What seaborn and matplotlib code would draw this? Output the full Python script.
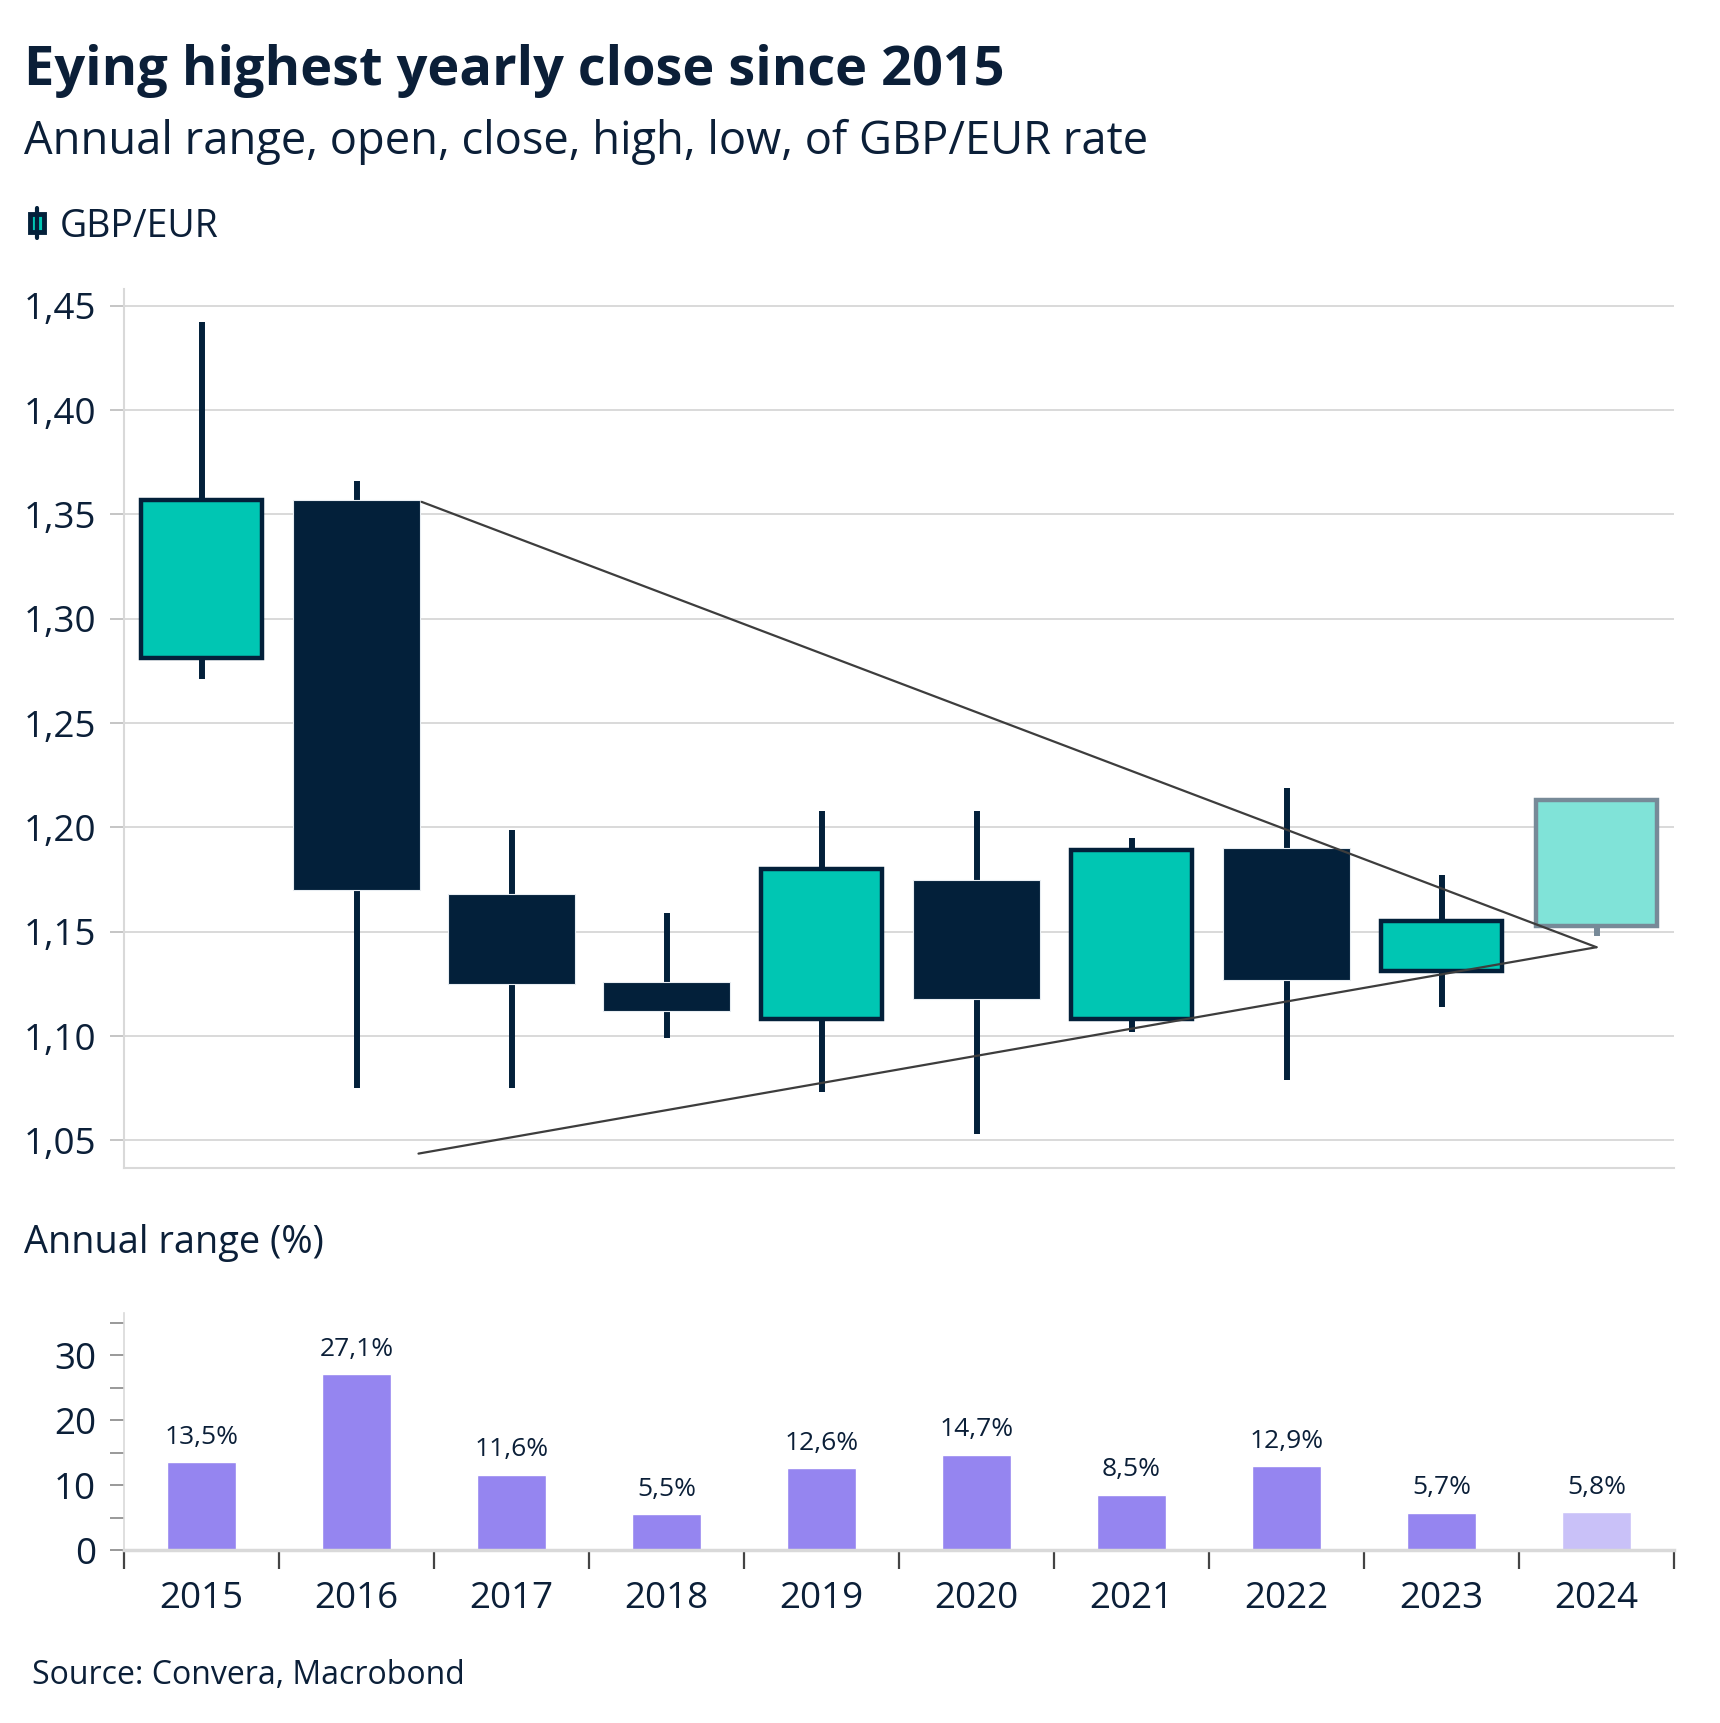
import numpy as np
import pandas as pd
import matplotlib
matplotlib.use("Agg")
import matplotlib.pyplot as plt
from matplotlib.patches import Rectangle
from matplotlib.lines import Line2D
from matplotlib.ticker import FixedLocator, FuncFormatter
import seaborn as sns

# ── data ─────────────────────────────────────────────────────────────────────
years  = ["2015", "2016", "2017", "2018", "2019", "2020", "2021", "2022", "2023", "2024"]
opens  = [1.281, 1.357, 1.168, 1.126, 1.108, 1.175, 1.108, 1.190, 1.131, 1.153]
closes = [1.357, 1.170, 1.125, 1.112, 1.180, 1.118, 1.189, 1.127, 1.155, 1.213]
highs  = [1.442, 1.366, 1.199, 1.159, 1.208, 1.208, 1.195, 1.219, 1.177, 1.214]
lows   = [1.271, 1.075, 1.075, 1.099, 1.073, 1.053, 1.102, 1.079, 1.114, 1.148]
ranges = [13.5, 27.1, 11.6, 5.5, 12.6, 14.7, 8.5, 12.9, 5.7, 5.8]

# triangle trend lines (x in category units, y in GBP/EUR)
upper_x, upper_y = [1.42, 9.0], [1.356, 1.1426]
lower_x, lower_y = [1.40, 9.0], [1.0437, 1.1426]

NAVY      = "#03203A"
TEAL      = "#00C6B3"
TEAL_LT   = "#80E3D8"   # 2024, year not finished
EDGE_LT   = "#778A98"
PURPLE    = "#9585F0"
PURPLE_LT = "#C9C1F8"
GRID      = "#D3D3D3"
TXT       = "#0B1F38"

sns.set_theme(style="white")
plt.rcParams["font.family"] = ["Open Sans", "DejaVu Sans"]
plt.rcParams["text.color"] = TXT
plt.rcParams["axes.labelcolor"] = TXT
plt.rcParams["xtick.color"] = TXT
plt.rcParams["ytick.color"] = TXT

W, H = 1720, 1723
fig = plt.figure(figsize=(W / 100, H / 100), dpi=100)

def fx(px): return px / W
def fy(px): return 1 - px / H

# ── candlestick panel ────────────────────────────────────────────────────────
ax = fig.add_axes([fx(124), fy(1168), fx(1674 - 124), (1168 - 289) / H])
x = np.arange(len(years))
for i in x:
    o, c, h, l = opens[i], closes[i], highs[i], lows[i]
    last = i == len(years) - 1
    edge = EDGE_LT if last else NAVY
    ax.vlines(i, l, h, color=edge, lw=4.3, zorder=2)
    if c >= o:
        ax.bar(i, c - o, bottom=o, width=0.78, color=TEAL_LT if last else TEAL,
               edgecolor=edge, linewidth=3.2, zorder=3)
    else:
        ax.bar(i, o - c, bottom=c, width=0.82, color=NAVY, edgecolor="#E8EDF2",
               linewidth=0.8, zorder=3)

ax.plot(upper_x, upper_y, color="#3D3D3D", lw=1.6, zorder=4)
ax.plot(lower_x, lower_y, color="#3D3D3D", lw=1.6, zorder=4)

ax.set_xlim(-0.5, len(years) - 0.5)
ax.set_ylim(1.0368, 1.458)
ax.set_yticks([1.05, 1.10, 1.15, 1.20, 1.25, 1.30, 1.35, 1.40, 1.45])
ax.yaxis.set_major_formatter(FuncFormatter(lambda v, p: f"{v:.2f}".replace(".", ",")))
ax.set_xticks([])
ax.grid(axis="y", color=GRID, lw=1.2, zorder=0)
ax.set_axisbelow(True)
for s in ["top", "right"]:
    ax.spines[s].set_visible(False)
for s in ["left", "bottom"]:
    ax.spines[s].set_color("#D9D9D9")
    ax.spines[s].set_linewidth(1.5)
ax.tick_params(axis="y", labelsize=26.5, length=10, width=1.2, color="#BBBBBB",
               pad=10, left=True)

# ── annual range bars ────────────────────────────────────────────────────────
bx = fig.add_axes([fx(124), fy(1550), fx(1674 - 124), (1550 - 1313) / H])
df = pd.DataFrame({"year": years, "range": ranges})
bar_cols = [PURPLE] * (len(years) - 1) + [PURPLE_LT]
sns.barplot(data=df, x="year", y="range", hue="year", palette=bar_cols,
            legend=False, width=0.45, ax=bx, saturation=1)
for i, v in enumerate(ranges):
    bx.annotate(f"{v:.1f}%".replace(".", ","), (i, v), xytext=(0, 9),
                textcoords="offset points", ha="center", va="bottom",
                fontsize=19, color=TXT)
bx.set_xlim(-0.5, len(years) - 0.5)
bx.set_ylim(0, 36.5)
bx.set_xlabel("")
bx.set_ylabel("")
bx.yaxis.set_major_locator(FixedLocator([0, 10, 20, 30]))
bx.yaxis.set_minor_locator(FixedLocator([5, 15, 25, 35]))
bx.xaxis.set_major_locator(FixedLocator(np.arange(-0.5, len(years), 1.0)))
bx.xaxis.set_minor_locator(FixedLocator(x))
bx.xaxis.set_major_formatter(FuncFormatter(lambda v, p: ""))
bx.xaxis.set_minor_formatter(FuncFormatter(lambda v, p: years[int(round(v))]
                                           if 0 <= round(v) < len(years) else ""))
bx.tick_params(axis="x", which="major", length=14, width=1.6, color="#444444",
               bottom=True)
bx.tick_params(axis="x", which="minor", length=0, labelsize=26.5, pad=22)
bx.tick_params(axis="y", which="both", length=10, width=1.2, color="#888888",
               labelsize=26.5, left=True, pad=10)
for s in ["top", "right"]:
    bx.spines[s].set_visible(False)
bx.spines["left"].set_color("#D9D9D9")
bx.spines["left"].set_linewidth(1.2)
bx.spines["bottom"].set_color("#D9D9D9")
bx.spines["bottom"].set_linewidth(2.5)

# ── texts ────────────────────────────────────────────────────────────────────
fig.text(fx(24), fy(85), "Eying highest yearly close since 2015", fontsize=39,
         fontweight="bold", va="baseline", ha="left")
fig.text(fx(24), fy(154), "Annual range, open, close, high, low, of GBP/EUR rate",
         fontsize=32.6, va="baseline", ha="left")
fig.text(fx(60), fy(237), "GBP/EUR", fontsize=27, va="baseline", ha="left")
fig.add_artist(Line2D([fx(37), fx(37)], [fy(208), fy(238)], color=NAVY, lw=3,
                      transform=fig.transFigure))
fig.add_artist(Rectangle((fx(30), fy(232)), fx(14), 18 / H, facecolor=TEAL,
                         edgecolor=NAVY, lw=3.5, transform=fig.transFigure))
fig.text(fx(24), fy(1253), "Annual range (%)", fontsize=27.3, va="baseline", ha="left")
fig.text(fx(32), fy(1684), "Source: Convera, Macrobond", fontsize=23,
         va="baseline", ha="left")

fig.savefig("out.png", dpi=100)
